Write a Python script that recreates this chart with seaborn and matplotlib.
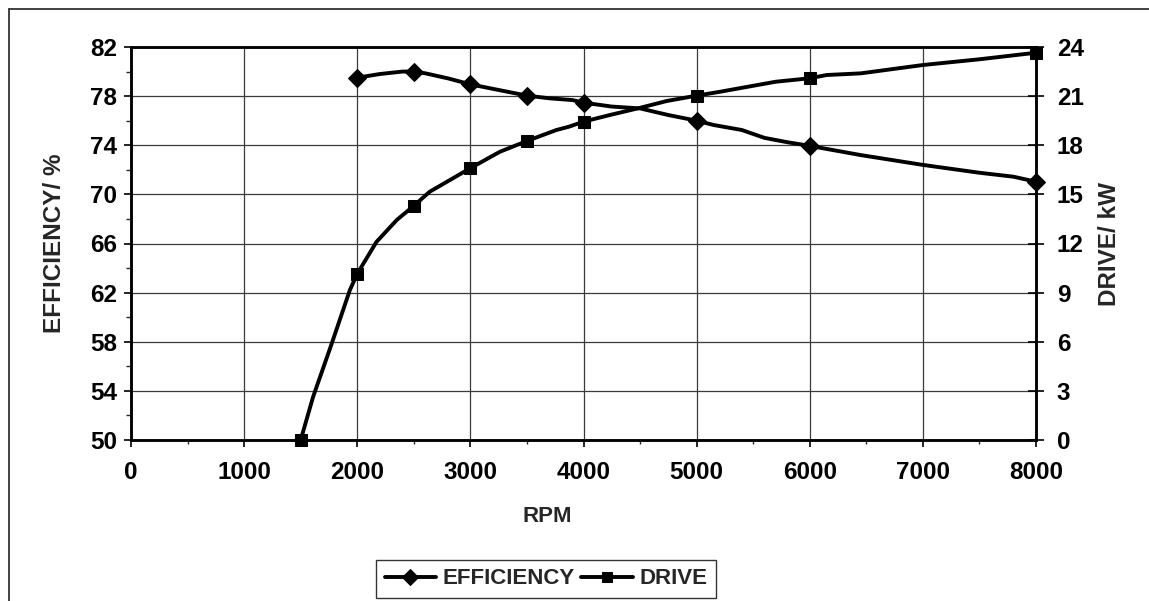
import numpy as np
import pandas as pd
import matplotlib
matplotlib.use("Agg")
import matplotlib.pyplot as plt
from matplotlib.lines import Line2D
from matplotlib.ticker import MultipleLocator
import seaborn as sns

# ---- data ----
eff_rpm = [2000, 2200, 2400, 2500, 2600, 2800, 3000, 3250, 3500, 3700, 3900, 4000,
           4250, 4500, 4750, 5000, 5150, 5400, 5600, 5800, 6000, 6450, 7000, 7500, 7800, 8000]
eff_val = [79.5, 79.8, 80.0, 80.0, 79.86, 79.45, 78.96, 78.5, 78.04, 77.82, 77.68, 77.47,
           77.15, 77.0, 76.46, 76.0, 75.65, 75.24, 74.6, 74.25, 73.95, 73.2, 72.4, 71.76, 71.44, 71.03]
eff_marker_rpm = [2000, 2500, 3000, 3500, 4000, 5000, 6000, 8000]

drv_rpm = [1500, 1610, 1775, 1935, 2000, 2170, 2350, 2500, 2640, 2820, 3000, 3260, 3500,
           3760, 3870, 4000, 4235, 4485, 4735, 5000, 5210, 5700, 6000, 6150, 6450, 7000, 7500, 8000]
drv_val = [0.0, 2.64, 5.9, 9.16, 10.15, 12.1, 13.44, 14.3, 15.16, 15.88, 16.6, 17.6, 18.26,
           18.93, 19.13, 19.44, 19.85, 20.26, 20.7, 21.03, 21.27, 21.88, 22.09, 22.29, 22.39, 22.9, 23.25, 23.65]
drv_marker_rpm = [1500, 2000, 2500, 3000, 3500, 4000, 5000, 6000, 8000]

x_ticks = [0, 1000, 2000, 3000, 4000, 5000, 6000, 7000, 8000]
left_ticks = [50, 54, 58, 62, 66, 70, 74, 78, 82]
right_ticks = [0, 3, 6, 9, 12, 15, 18, 21, 24]

sns.set_style("white")
plt.rcParams["font.family"] = ["Liberation Sans", "DejaVu Sans"]
plt.rcParams["font.weight"] = "bold"

FS = 16      # axis title / legend size
TFS = 17.5   # tick label size
YFS = 17.5   # y axis titles
W, H = 1149, 601
fig = plt.figure(figsize=(W / 100, H / 100), dpi=100)
L, R, T, B = 131, 1036, 47, 440
ax = fig.add_axes([L / W, 1 - B / H, (R - L) / W, (B - T) / H])
ax2 = ax.twinx()

df_eff = pd.DataFrame({"rpm": eff_rpm, "eff": eff_val})
df_drv = pd.DataFrame({"rpm": drv_rpm, "drv": drv_val})
eff_idx = [eff_rpm.index(r) for r in eff_marker_rpm]
drv_idx = [drv_rpm.index(r) for r in drv_marker_rpm]

sns.lineplot(data=df_eff, x="rpm", y="eff", ax=ax, color="black", linewidth=2.8,
             marker="D", markersize=9, markevery=eff_idx, markeredgecolor="black",
             markerfacecolor="black", estimator=None, sort=False, legend=False,
             label="EFFICIENCY")
sns.lineplot(data=df_drv, x="rpm", y="drv", ax=ax2, color="black", linewidth=2.8,
             marker="s", markersize=8.5, markevery=drv_idx, markeredgecolor="black",
             markerfacecolor="black", estimator=None, sort=False, legend=False,
             label="DRIVE")
for a in (ax, ax2):
    for ln in a.get_lines():
        ln.set_clip_on(False)

ax.set_xlim(0, 8000)
ax.set_ylim(50, 82)
ax2.set_ylim(0, 24)
ax.set_xticks(x_ticks)
ax.set_yticks(left_ticks)
ax2.set_yticks(right_ticks)
ax.xaxis.set_minor_locator(MultipleLocator(500))
ax.yaxis.set_minor_locator(MultipleLocator(2))

ax.grid(True, which="major", color="#3a3a3a", linewidth=0.9)
ax2.grid(False)

for a in (ax, ax2):
    for s in a.spines.values():
        s.set_color("black")
        s.set_linewidth(1.8)
        s.set_visible(True)

ax.tick_params(axis="y", which="major", direction="out", length=5, width=1.2,
               labelsize=TFS, pad=5, left=True, colors="black")
ax.tick_params(axis="y", which="minor", direction="out", length=3.5, width=1.0, left=True)
ax.tick_params(axis="x", which="major", direction="out", length=5, width=1.2,
               labelsize=TFS, pad=10, bottom=True, colors="black")
ax.tick_params(axis="x", which="minor", direction="out", length=3, width=1.0, bottom=True)
ax2.tick_params(axis="y", which="major", direction="inout", length=12, width=1.2,
                labelsize=TFS, pad=9, right=True, colors="black")

for lab in ax.get_xticklabels() + ax.get_yticklabels() + ax2.get_yticklabels():
    lab.set_fontweight("bold")

ax.set_xlabel("RPM", fontsize=FS, fontweight="bold")
ax.xaxis.set_label_coords((547 - L) / (R - L), (B - 506) / (B - T))
ax.set_ylabel("EFFICIENCY/ %", fontsize=YFS, fontweight="bold")
ax.yaxis.set_label_coords((66 - L) / (R - L), 0.5)
ax2.set_ylabel("DRIVE/ kW", fontsize=YFS, fontweight="bold")
ax2.yaxis.set_label_coords((1110 - L) / (R - L), 0.5)
ax2.yaxis.label.set_rotation(90)
ax2.yaxis.label.set_va("center")
ax2.yaxis.label.set_ha("center")

handles = [ax.get_lines()[0], ax2.get_lines()[0]]
leg = fig.legend(handles, ["EFFICIENCY", "DRIVE"], loc="center",
                 bbox_to_anchor=(546 / W, 1 - 579 / H), ncol=2, frameon=True,
                 fancybox=False, edgecolor="black",
                 prop={"weight": "bold", "size": FS},
                 handlelength=2.3, handletextpad=0.3, columnspacing=0.3,
                 borderpad=0.4, borderaxespad=0, markerscale=0.85)
leg.get_frame().set_linewidth(1.0)

# outer chart-area border (top and left only are visible in the reference)
bx, by = 8.5 / W, 1 - 9 / H
fig.add_artist(Line2D([bx, 1.0], [by, by], transform=fig.transFigure, color="#333333", linewidth=1.3))
fig.add_artist(Line2D([bx, bx], [0.0, by], transform=fig.transFigure, color="#333333", linewidth=1.3))

fig.savefig("out.png", dpi=100)
